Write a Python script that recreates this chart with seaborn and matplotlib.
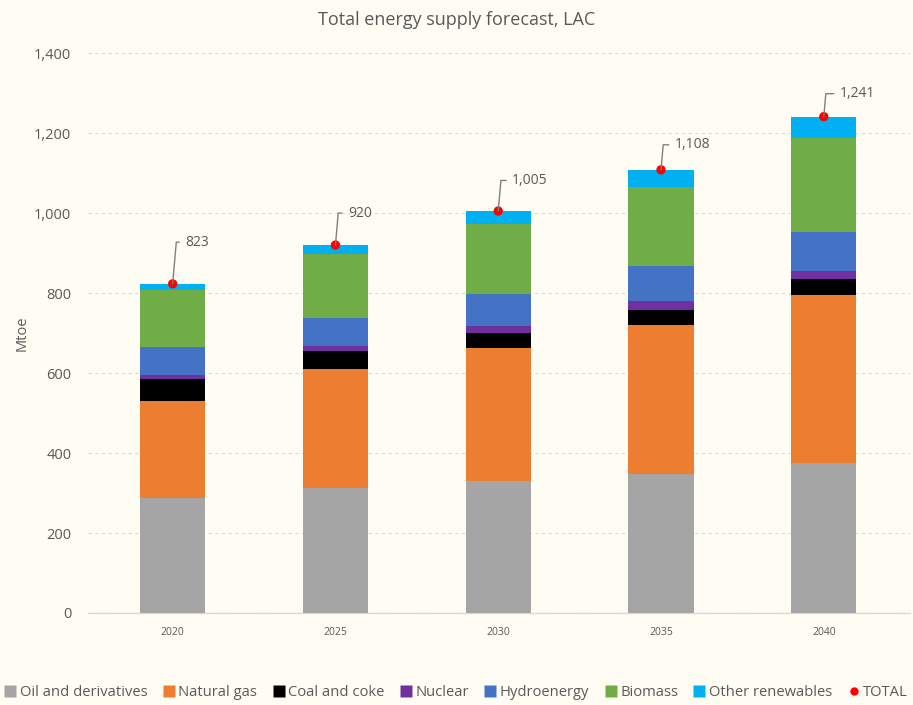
import matplotlib
matplotlib.use("Agg")
import matplotlib.pyplot as plt
import seaborn as sns
import numpy as np
from matplotlib.lines import Line2D
from matplotlib.ticker import FuncFormatter

years = ["2020", "2025", "2030", "2035", "2040"]
oil = [287, 312, 329, 347, 375]
gas = [243, 298, 333, 374, 421]
coal = [54, 45, 38, 36, 38]
nuclear = [11, 12, 18, 22, 22]
hydro = [69, 71, 80, 88, 97]
biomass = [143, 159, 174, 199, 234]
other = [16, 23, 33, 42, 54]
totals = [823, 920, 1005, 1108, 1241]
series_names = ["Oil and derivatives", "Natural gas", "Coal and coke", "Nuclear",
                "Hydroenergy", "Biomass", "Other renewables"]
series_values = [oil, gas, coal, nuclear, hydro, biomass, other]
colors = ["#A5A5A5", "#ED7D31", "#000000", "#7030A0", "#4472C4", "#70AD47", "#00B0F0"]

# label offsets (points) for the total call-outs
label_offsets = [(9, 30), (9, 23), (10, 22), (10, 18), (11.5, 16.5)]

sns.set_theme(style="white")
plt.rcParams['font.family'] = ['Open Sans', 'DejaVu Sans']
bg = "#FFFDF3"
txt = "#595959"

fig = plt.figure(figsize=(9.13, 7.05), dpi=100, facecolor=bg)
ax = fig.add_axes([0.0964, 0.1305, 0.9004, 0.7943])
ax.set_facecolor(bg)

bottom = np.zeros(len(years))
for name, vals, c in zip(series_names, series_values, colors):
    sns.barplot(x=years, y=vals, bottom=bottom.copy(), color=c, width=0.4,
                saturation=1, linewidth=0, ax=ax, zorder=3)
    bottom += np.array(vals, dtype=float)

sns.scatterplot(x=years, y=totals, color="#FF0000", s=45, edgecolor="none",
                ax=ax, zorder=5)

for i, t in enumerate(totals):
    ax.annotate(f"{t:,}", xy=(i, t), xytext=label_offsets[i], textcoords="offset points",
                ha="left", va="center", fontsize=10, color=txt, zorder=6,
                arrowprops=dict(arrowstyle="-", color="#7F7F7F", lw=1,
                                connectionstyle="angle,angleA=0,angleB=85",
                                relpos=(0, 0.5), shrinkA=2, shrinkB=0))

ax.set_ylim(0, 1400)
ax.set_xlim(-0.52, 4.53)
ax.set_yticks(np.arange(0, 1401, 200))
ax.yaxis.set_major_formatter(FuncFormatter(lambda v, p: f"{int(v):,}"))
ax.grid(axis="y", color="#D9D9D9", linestyle=(0, (3, 3)), linewidth=0.8, zorder=0)
ax.set_axisbelow(True)
for s in ["top", "right", "left"]:
    ax.spines[s].set_visible(False)
ax.spines["bottom"].set_color("#D9D9D9")
ax.spines["bottom"].set_linewidth(1)
ax.tick_params(axis="y", length=0, labelsize=10.5, labelcolor=txt, pad=12)
ax.tick_params(axis="x", length=0, labelsize=7.5, labelcolor=txt, pad=10)
ax.set_xlabel("")
ax.set_ylabel("Mtoe", fontsize=10.5, color=txt, labelpad=3)
fig.text(0.5, 0.972, "Total energy supply forecast, LAC", ha="center", va="center",
         fontsize=13, color=txt)

handles = [Line2D([], [], marker="s", linestyle="none", markersize=8,
                  markerfacecolor=c, markeredgecolor="none") for c in colors]
handles.append(Line2D([], [], marker="o", linestyle="none", markersize=6,
                      markerfacecolor="#FF0000", markeredgecolor="none"))
labels = series_names + ["TOTAL"]
fig.legend(handles, labels, loc="center", bbox_to_anchor=(0.5, 0.018), ncol=8,
           frameon=False, fontsize=10.6, handlelength=0.7, handletextpad=0.3,
           columnspacing=1.1, labelcolor=txt)

fig.savefig("out.png", dpi=100, facecolor=bg)
